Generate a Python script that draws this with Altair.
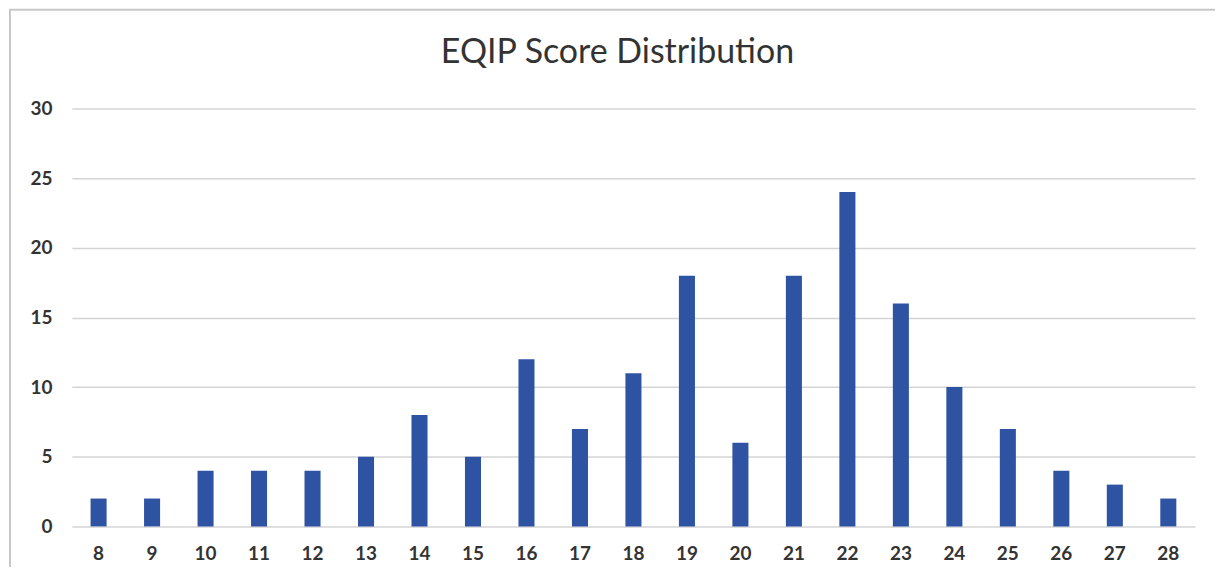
import altair as alt
import pandas as pd

scores = [str(s) for s in range(8, 29)]
counts = [2, 2, 4, 4, 4, 5, 8, 5, 12, 7, 11, 18, 6, 18, 24, 16, 10, 7, 4, 3, 2]

df = pd.DataFrame({"score": scores, "count": counts})

FONT = "Lato"

frame = alt.Chart(pd.DataFrame({"a": [0]})).mark_rect(
    fill=None, stroke="#c8c8c8", strokeWidth=2
).encode(
    x=alt.value(-62), x2=alt.value(1160), y=alt.value(-99), y2=alt.value(480)
)

bars = alt.Chart(df).mark_bar(color="#2F53A3").encode(
    x=alt.X("score:N", sort=scores, title=None,
            scale=alt.Scale(paddingInner=0.7, paddingOuter=0.35),
            axis=alt.Axis(labelAngle=0, domain=False, ticks=False, labelPadding=18,
                          labelFontSize=19, labelFontWeight="bold",
                          labelColor="#333333", labelFont=FONT)),
    y=alt.Y("count:Q", title=None,
            scale=alt.Scale(domain=[0, 30]),
            axis=alt.Axis(values=[0, 5, 10, 15, 20, 25, 30], domain=False, ticks=False,
                          labelPadding=20, labelFontSize=19, labelFontWeight="bold",
                          labelColor="#333333",
                          labelFont=FONT, gridColor="#d4d4d4", gridWidth=1.5)),
)

chart = alt.layer(frame, bars).properties(
    width=1126, height=419,
    title=alt.TitleParams("EQIP Score Distribution", fontSize=34, font=FONT,
                          fontWeight="normal", color="#333333", offset=-61, dx=-16),
    autosize=alt.AutoSizeParams(type="none"),
    padding={"left": 64, "top": 100, "right": 20, "bottom": 40},
).configure_view(stroke=None)

chart.save("out.html", embed_options={"renderer": "svg", "actions": False})
